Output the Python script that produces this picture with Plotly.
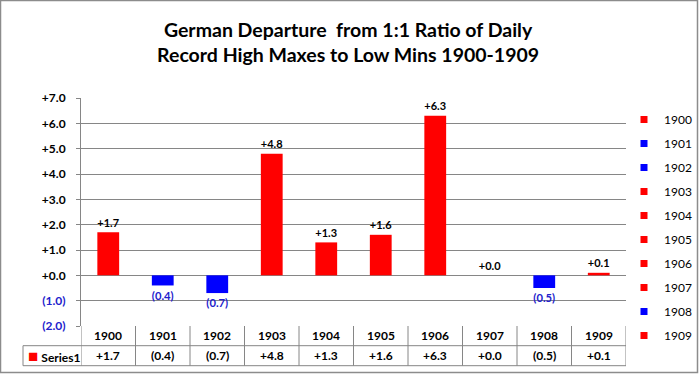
import plotly.graph_objects as go

years = ['1900', '1901', '1902', '1903', '1904', '1905', '1906', '1907', '1908', '1909']
values = [1.7, -0.4, -0.7, 4.8, 1.3, 1.6, 6.3, 0.0, -0.5, 0.1]
labels = ['+1.7', '(0.4)', '(0.7)', '+4.8', '+1.3', '+1.6', '+6.3', '+0.0', '(0.5)', '+0.1']
ytick_vals = [-2, -1, 0, 1, 2, 3, 4, 5, 6, 7]
ytick_text = ['(2.0)', '(1.0)', '+0.0', '+1.0', '+2.0', '+3.0', '+4.0', '+5.0', '+6.0', '+7.0']
series_name = 'Series1'
title_text = 'German Departure  from 1:1 Ratio of Daily<br>Record High Maxes to Low Mins 1900-1909'

RED = '#FF0000'
BLUE = '#0000FF'
LABEL_BLUE = '#2222CC'
GRID = '#868686'
FONT = 'Lato'

fig = go.Figure()
for yr, v, lab in zip(years, values, labels):
    col = RED if v >= 0 else BLUE
    fig.add_trace(go.Bar(
        x=[yr], y=[v], name=yr, legendgroup=yr, showlegend=False,
        marker=dict(color=col, line=dict(width=0)),
        width=0.4,
        text=[f'<b>{lab}</b>'], textposition='outside', cliponaxis=False,
        textfont=dict(family=FONT, size=12, color=('black' if v >= 0 else LABEL_BLUE)),
    ))
# legend entries (small square keys, as in the reference)
for yr, v in zip(years, values):
    col = RED if v >= 0 else BLUE
    fig.add_trace(go.Scatter(
        x=[None], y=[None], mode='markers', name=yr, legendgroup=yr,
        marker=dict(symbol='square', size=7, color=col),
    ))

tick_text_colored = [
    (f"<span style='color:{LABEL_BLUE}'>{t}</span>" if v < 0 else t)
    for v, t in zip(ytick_vals, ytick_text)
]

L, R, T, B = 81, 73, 98, 48
W, H = 699, 374
PW, PH = W - L - R, H - T - B

def py(px):
    return (H - B - px) / PH

def pxx(px):
    return (px - L) / PW

shapes = []
line_style = dict(color=GRID, width=1)
for ypx in [345.7, 365.7]:
    shapes.append(dict(type='line', xref='paper', yref='paper',
                       x0=pxx(23), x1=1, y0=py(ypx), y1=py(ypx), line=line_style))
for i in range(len(years) + 1):
    shapes.append(dict(type='line', xref='x', yref='paper',
                       x0=i - 0.5, x1=i - 0.5, y0=0, y1=py(365.7), line=line_style))
shapes.append(dict(type='line', xref='paper', yref='paper',
                   x0=pxx(23), x1=pxx(23), y0=py(345.7), y1=py(365.7), line=line_style))
shapes.append(dict(type='rect', xref='paper', yref='paper',
                   x0=pxx(0.5), x1=pxx(697.5), y0=py(372.5), y1=py(0.5),
                   line=dict(color='#8C8C8C', width=1.5)))

annotations = []
for i, (yr, lab) in enumerate(zip(years, labels)):
    annotations.append(dict(x=i, y=py(335.7), xref='x', yref='paper', text=f'<b>{yr}</b>',
                            xanchor='center', yanchor='middle',
                            showarrow=False, font=dict(family=FONT, size=12, color='black')))
    annotations.append(dict(x=i, y=py(355.7), xref='x', yref='paper', text=f'<b>{lab}</b>',
                            xanchor='center', yanchor='middle',
                            showarrow=False, font=dict(family=FONT, size=12, color='black')))
annotations.append(dict(x=pxx(26), y=py(355.7), xref='paper', yref='paper',
                        xanchor='left', yanchor='middle',
                        text=f"<span style='color:{RED};font-size:17px'>■</span> <b>{series_name}</b>",
                        showarrow=False, font=dict(family=FONT, size=12, color='black')))

fig.update_layout(
    width=W, height=H,
    margin=dict(l=L, r=R, t=T, b=B, autoexpand=False),
    paper_bgcolor='white', plot_bgcolor='white',
    barmode='overlay',
    title=dict(text=f'<b>{title_text}</b>', x=0.498, xanchor='center', y=1 - 37 / H, yanchor='middle',
               font=dict(family=FONT, size=19.5, color='black')),
    xaxis=dict(type='category', range=[-0.5, 9.5], showticklabels=False, showgrid=False,
               zeroline=False, showline=False, ticks=''),
    yaxis=dict(range=[-2, 7], tickvals=ytick_vals, ticktext=[f'<b>{t}</b>' for t in tick_text_colored],
               showgrid=True, gridcolor=GRID, gridwidth=1, zeroline=True, zerolinecolor=GRID,
               zerolinewidth=1, showline=True, linecolor=GRID, linewidth=1, ticks='outside',
               ticklen=4, tickcolor=GRID, ticklabelstandoff=8,
               tickfont=dict(family=FONT, size=12, color='black')),
    showlegend=True,
    legend=dict(x=pxx(624), y=py(105), xanchor='left', yanchor='top', traceorder='grouped',
                tracegroupgap=5, font=dict(family=FONT, size=12, color='black'),
                itemwidth=30, bgcolor='rgba(0,0,0,0)', maxheight=300),
    shapes=shapes, annotations=annotations,
)

fig.write_html('out.html', config={'displayModeBar': False},
               post_script="document.body.style.margin='0px';")
